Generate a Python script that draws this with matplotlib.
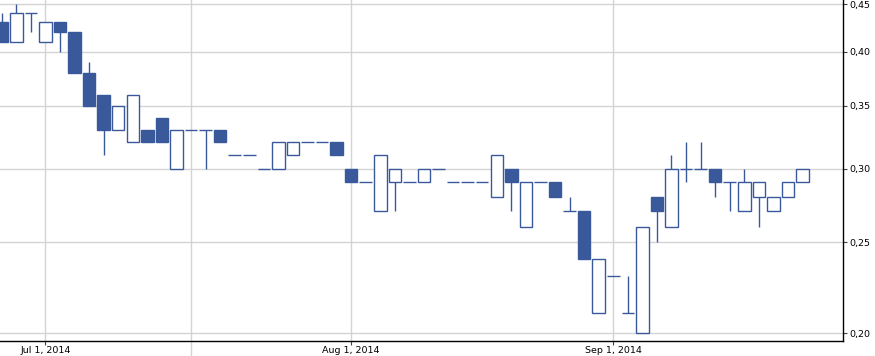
import matplotlib
matplotlib.use("Agg")
import matplotlib.pyplot as plt
import matplotlib.patches as patches
from matplotlib.ticker import FixedLocator, NullLocator

# daily OHLC, one entry per trading day (index 0 = last days of June 2014)
opens = [0.43, 0.41, 0.44, 0.41, 0.43, 0.42, 0.38, 0.36, 0.33, 0.32,
         0.33, 0.34, 0.30, 0.33, 0.33, 0.33, 0.31, 0.31, 0.30, 0.30,
         0.31, 0.32, 0.32, 0.32, 0.30, 0.29, 0.27, 0.29, 0.29, 0.29,
         0.30, 0.29, 0.29, 0.29, 0.28, 0.30, 0.26, 0.29, 0.29, 0.27,
         0.27, 0.21, 0.23, 0.21, 0.20, 0.28, 0.26, 0.30, 0.30, 0.30,
         0.29, 0.27, 0.28, 0.27, 0.28, 0.29]
highs = [0.44, 0.45, 0.44, 0.43, 0.43, 0.42, 0.39, 0.36, 0.35, 0.36,
         0.33, 0.34, 0.33, 0.33, 0.33, 0.33, 0.31, 0.31, 0.30, 0.32,
         0.32, 0.32, 0.32, 0.32, 0.30, 0.29, 0.31, 0.30, 0.29, 0.30,
         0.30, 0.29, 0.29, 0.29, 0.31, 0.30, 0.29, 0.29, 0.29, 0.28,
         0.27, 0.24, 0.23, 0.23, 0.26, 0.28, 0.31, 0.32, 0.32, 0.30,
         0.29, 0.30, 0.29, 0.28, 0.29, 0.30]
lows = [0.41, 0.41, 0.42, 0.41, 0.40, 0.38, 0.35, 0.31, 0.33, 0.32,
        0.32, 0.32, 0.30, 0.33, 0.30, 0.32, 0.31, 0.31, 0.30, 0.30,
        0.31, 0.32, 0.32, 0.31, 0.29, 0.29, 0.27, 0.27, 0.29, 0.29,
        0.30, 0.29, 0.29, 0.29, 0.28, 0.27, 0.26, 0.29, 0.28, 0.27,
        0.24, 0.21, 0.23, 0.21, 0.20, 0.25, 0.26, 0.29, 0.30, 0.28,
        0.27, 0.27, 0.26, 0.27, 0.28, 0.29]
closes = [0.41, 0.44, 0.44, 0.43, 0.42, 0.38, 0.35, 0.33, 0.35, 0.36,
          0.32, 0.32, 0.33, 0.33, 0.33, 0.32, 0.31, 0.31, 0.30, 0.32,
          0.32, 0.32, 0.32, 0.31, 0.29, 0.29, 0.31, 0.30, 0.29, 0.30,
          0.30, 0.29, 0.29, 0.29, 0.31, 0.29, 0.29, 0.29, 0.28, 0.27,
          0.24, 0.24, 0.23, 0.21, 0.26, 0.27, 0.30, 0.30, 0.30, 0.29,
          0.29, 0.29, 0.29, 0.28, 0.29, 0.30]

month_pos = [3, 24, 42]
month_labels = ["Jul 1, 2014", "Aug 1, 2014", "Sep 1, 2014"]
week_sep = 13
y_ticks = [0.20, 0.25, 0.30, 0.35, 0.40, 0.45]

BLUE = "#3a599b"
GRID = "#d4d4d4"
W = 0.86

fig = plt.figure(figsize=(8.75, 3.56), dpi=100)
ax = fig.add_axes([0, 15 / 356, 843.3 / 875, 341 / 356])

for i, (o, h, l, c) in enumerate(zip(opens, highs, lows, closes)):
    if h > l:
        ax.plot([i, i], [l, h], color=BLUE, lw=1.0, zorder=3, solid_capstyle="butt")
    if o == c:
        ax.plot([i - W / 2, i + W / 2], [o, o], color=BLUE, lw=1.0, zorder=4,
                solid_capstyle="butt")
    else:
        face = BLUE if c < o else "white"
        ax.add_patch(patches.Rectangle((i - W / 2, min(o, c)), W, abs(c - o),
                                       facecolor=face, edgecolor=BLUE, lw=1.0, zorder=4))

ax.set_yscale("log")
ax.set_ylim(0.1961, 0.4545)
ax.set_xlim(-0.12, 57.8)

ax.yaxis.set_major_locator(FixedLocator(y_ticks))
ax.yaxis.set_minor_locator(NullLocator())
ax.set_yticklabels([f"{v:.2f}".replace(".", ",") for v in y_ticks])
ax.yaxis.tick_right()
ax.set_xticks(month_pos)
ax.set_xticklabels(month_labels)
ax.tick_params(axis="both", labelsize=6.8, length=3, width=0.8, color="#444444")
ax.tick_params(axis="y", pad=1.5)
ax.tick_params(axis="x", pad=0.8)

ax.grid(True, color=GRID, lw=1.0, zorder=0)
ax.set_axisbelow(True)
ax.axvline(week_sep, ymin=-15 / 341, ymax=1, color=GRID, lw=1.0, clip_on=False, zorder=0)

for s in ["top", "left"]:
    ax.spines[s].set_visible(False)
for s in ["right", "bottom"]:
    ax.spines[s].set_color("black")
    ax.spines[s].set_linewidth(1.0)

fig.savefig("out.png", dpi=100)
